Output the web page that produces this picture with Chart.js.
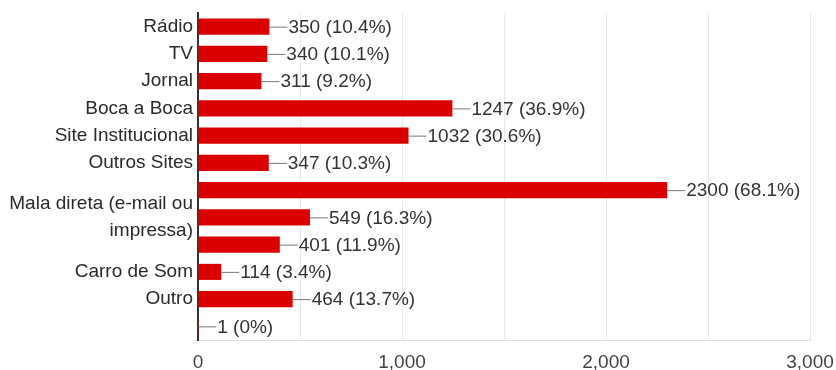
<!DOCTYPE html>
<html>
<head>
<meta charset="utf-8">
<script src="https://cdn.jsdelivr.net/npm/chart.js@4/dist/chart.umd.min.js"></script>
<style>
  body { margin: 0; background: #fff; }
</style>
</head>
<body>
<canvas id="chart" width="836" height="370"></canvas>
<script>
// Categories (empty strings are rows whose label is not shown)
const categories = [
  "Rádio", "TV", "Jornal", "Boca a Boca", "Site Institucional", "Outros Sites",
  "", ["Mala direta (e-mail ou", "impressa)"], "", "Carro de Som", "Outro", ""
];
const counts = [350, 340, 311, 1247, 1032, 347, 2300, 549, 401, 114, 464, 1];
const percents = ["10.4%", "10.1%", "9.2%", "36.9%", "30.6%", "10.3%", "68.1%", "16.3%", "11.9%", "3.4%", "13.7%", "0%"];
const xTicks = [0, 1000, 2000, 3000];

const FONT = "'Liberation Sans', Arial, sans-serif";

// leader line + "count (pct)" after each bar
const valueLabels = {
  id: "valueLabels",
  afterDatasetsDraw(chart) {
    const ctx = chart.ctx;
    const meta = chart.getDatasetMeta(0);
    ctx.save();
    ctx.font = "19px " + FONT;
    ctx.textBaseline = "middle";
    meta.data.forEach((bar, i) => {
      const x = bar.x, y = bar.y;
      ctx.strokeStyle = "#777";
      ctx.lineWidth = 1;
      ctx.beginPath();
      ctx.moveTo(x, y + 0.5);
      ctx.lineTo(x + 18, y + 0.5);
      ctx.stroke();
      ctx.fillStyle = "#333";
      ctx.fillText(counts[i] + " (" + percents[i] + ")", x + 19, y + 1);
    });
    ctx.restore();
  }
};

// keep tick labels from shrinking the plot area
function noEdgePadding(scale) {
  scale.paddingLeft = 0;
  scale.paddingRight = 0;
  scale.paddingTop = 0;
  scale.paddingBottom = 0;
}

new Chart(document.getElementById("chart"), {
  type: "bar",
  data: {
    labels: categories,
    datasets: [{
      data: counts,
      backgroundColor: "#db0000",
      borderWidth: 0,
      barPercentage: 0.59,
      categoryPercentage: 1.0
    }]
  },
  options: {
    indexAxis: "y",
    responsive: false,
    animation: false,
    layout: { padding: { top: 13, right: 26, left: 0, bottom: 0 } },
    plugins: { legend: { display: false }, tooltip: { enabled: false } },
    scales: {
      x: {
        min: 0,
        max: 3000,
        afterFit(scale) { scale.height = 30; noEdgePadding(scale); },
        afterBuildTicks(scale) {
          const t = [];
          for (let v = 0; v <= 3000; v += 500) t.push({ value: v });
          scale.ticks = t;
        },
        grid: { color: "#e8e8e8", drawTicks: false },
        border: { display: true, color: "#e0e0e0" },
        ticks: {
          autoSkip: false,
          maxRotation: 0,
          padding: 11,
          color: "#444",
          font: { family: FONT, size: 19 },
          callback: (v) => xTicks.includes(v) ? v.toLocaleString("en-US") : ""
        }
      },
      y: {
        afterFit(scale) { scale.width = 198; noEdgePadding(scale); },
        grid: { display: false, drawTicks: false },
        border: { display: true, color: "#333", width: 2 },
        ticks: {
          autoSkip: false,
          padding: 5,
          color: "#2a2a2a",
          font: { family: FONT, size: 19, lineHeight: 1.42 }
        }
      }
    }
  },
  plugins: [valueLabels]
});
</script>
</body>
</html>
